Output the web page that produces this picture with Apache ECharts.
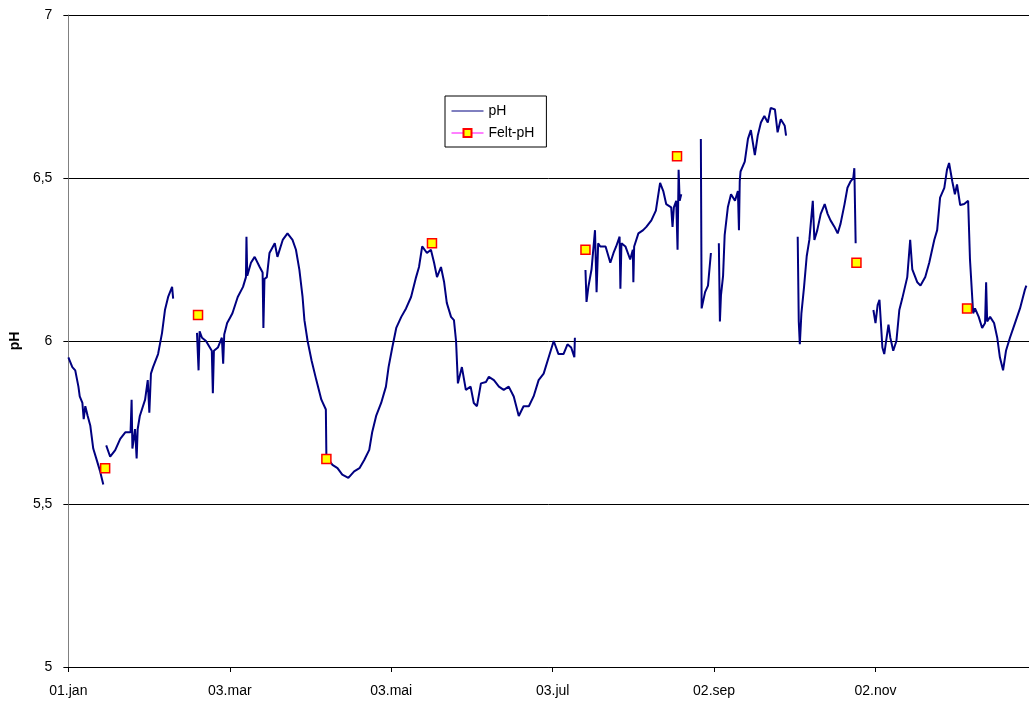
<!DOCTYPE html>
<html>
<head>
<meta charset="utf-8">
<script src="https://cdn.jsdelivr.net/npm/echarts@6/dist/echarts.min.js"></script>
<style>
html,body{margin:0;padding:0;background:#fff;}
#c{width:1029px;height:702px;}
</style>
</head>
<body>
<div id="c"></div>
<script>
// Day index (0 = 01.jan) and pH readings; null marks a gap in the logger record
var phDays = [
 0,1.5,2.6,3.8,4.3,5.3,5.8,6.4,7.3,8.3,9.4,10.9,12,13.2,13.8,
 14.3,15.8,17.7,19.6,21.5,23.5,23.9,24.2,25.2,25.8,26.2,27,29,30,30.6,31.2,32,33.9,35.4,36.5,37.7,39.2,39.6,40,
 48.6,49.2,49.6,50.5,52,54.2,54.6,55,56.5,58,58.5,58.9,60,61,62,64,66,67.1,67.3,67.6,69,70.4,72.3,73.4,73.7,74.1,75,76,78,79,81,82.8,84.7,86,87.3,88.5,89.2,90.4,91.9,93.7,95.6,97.3,97.5,99.8,101.7,103.5,105.8,108,110,111.8,113.7,114.8,116.3,118.2,120,121,122.4,123.9,125.8,127.6,129.5,131.4,132.5,133.7,135.5,137,138.2,139.3,140.8,142,143,144.6,145.7,146.5,147.2,148.7,150.2,152,153.2,154.4,155.9,157.8,158.9,160.8,162.7,164.5,166.4,168.3,170.2,172,174,175.8,177.7,179.6,181.5,183.4,185.2,187.1,188.6,190,191.2,191.4,192,
 195.4,195.8,196.5,197.7,199,199.6,200.2,201,203,204.8,206,207,208.3,208.6,209,210.5,212.3,213.3,213.5,213.8,215.4,217.2,218.4,220.3,222,223.6,224.8,225.9,227.8,228.3,228.8,229.7,230.2,230.6,231,231.6,232,
 239,239.3,240.6,241.7,242.8,244,245.8,246.2,246.6,247.4,248,249.2,250.4,251.9,253,253.4,253.7,254,255.6,256.8,257.9,259.4,260.5,261.7,263,264.3,265.4,267,268,269.2,270.7,271.2,272,
 275.6,276,276.4,277,278,279,280,281.3,281.9,283,284.3,285.8,286.9,288,289.5,290.7,291.8,293.3,294.4,295.6,296.6,297,297.5,298,
 304.2,305,305.8,306.5,307.6,308.3,309.9,310.6,311.7,312.9,314,315.1,317,318.1,318.9,320.8,322,323.8,325.3,327.2,328.3,329.4,331,332,332.8,334,335,335.8,337,338.5,340,340.7,341.9,342.6,344,345.3,346.4,346.8,347.2,348.3,349.8,351,352,353.2,354.3,355.8,357.7,359.6,361.4,362
];
var phValues = [
 5.95,5.92,5.91,5.86,5.83,5.81,5.76,5.80,5.77,5.74,5.67,5.63,5.60,5.56,null,
 5.68,5.645,5.665,5.70,5.72,5.72,5.82,5.67,5.73,5.64,5.73,5.77,5.82,5.88,5.78,5.90,5.92,5.96,6.025,6.095,6.135,6.166,6.13,null,
 6.025,5.91,6.03,6.01,6.00,5.97,5.84,5.97,5.98,6.01,5.93,6.02,6.055,6.07,6.085,6.135,6.166,6.196,6.32,6.20,6.24,6.258,6.227,6.21,6.04,6.19,6.196,6.27,6.30,6.258,6.31,6.33,6.31,6.28,6.218,6.135,6.064,6.00,5.94,5.88,5.82,5.79,5.645,5.62,5.61,5.59,5.58,5.60,5.61,5.635,5.666,5.72,5.77,5.81,5.86,5.92,5.98,6.04,6.074,6.10,6.135,6.196,6.227,6.29,6.27,6.28,6.24,6.196,6.227,6.18,6.117,6.074,6.064,6.00,5.87,5.92,5.85,5.86,5.81,5.80,5.87,5.874,5.89,5.88,5.86,5.85,5.86,5.83,5.77,5.80,5.80,5.83,5.88,5.90,5.95,6.00,5.96,5.96,5.99,5.98,5.95,6.01,null,
 6.218,6.12,6.166,6.22,6.34,6.15,6.30,6.29,6.29,6.24,6.27,6.29,6.32,6.16,6.30,6.29,6.25,6.28,6.18,6.29,6.33,6.34,6.35,6.37,6.40,6.485,6.46,6.42,6.41,6.35,6.41,6.43,6.28,6.525,6.43,6.45,null,
 6.62,6.10,6.15,6.17,6.27,null,6.30,6.06,6.14,6.20,6.325,6.41,6.45,6.43,6.46,6.34,6.49,6.52,6.55,6.62,6.647,6.57,6.63,6.67,6.69,6.67,6.715,6.71,6.64,6.68,6.66,6.63,null,
 6.32,6.06,5.99,6.085,6.166,6.26,6.31,6.43,6.31,6.34,6.39,6.42,6.39,6.37,6.35,6.33,6.36,6.42,6.47,6.49,6.50,6.53,6.30,null,
 6.095,6.055,6.11,6.126,5.98,5.96,6.05,6.01,5.97,6.00,6.095,6.13,6.196,6.31,6.22,6.18,6.17,6.196,6.24,6.31,6.34,6.44,6.47,6.525,6.546,6.49,6.45,6.48,6.417,6.42,6.43,6.25,6.085,6.10,6.074,6.04,6.055,6.18,6.06,6.074,6.055,6.01,5.95,5.91,5.97,6.01,6.055,6.10,6.156,6.17
];
// Field measurements
var feltDays = [13.9, 49, 97.5, 137.4, 195.4, 230, 297.8, 339.6];
var feltValues = [5.61, 6.08, 5.638, 6.30, 6.28, 6.567, 6.24, 6.10];
// Axis ticks
var tickDays = [0, 61, 122, 183, 244, 305];
var tickLabels = ['01.jan', '03.mar', '03.mai', '03.jul', '02.sep', '02.nov'];
var yTicks = [5, 5.5, 6, 6.5, 7];

var phData = phDays.map(function (d, i) { return [d, phValues[i] === null ? '-' : phValues[i]]; });
var feltData = feltDays.map(function (d, i) { return [d, feltValues[i]]; });

var font = 'Liberation Sans, Arial, sans-serif';
var chart = echarts.init(document.getElementById('c'), null, { renderer: 'canvas' });
chart.setOption({
  animation: false,
  backgroundColor: '#fff',
  textStyle: { fontFamily: font },
  grid: { left: 68, top: 15, width: 961, height: 652, containLabel: false },
  legend: {
    orient: 'vertical',
    left: 445, top: 96,
    padding: [8, 12, 7, 6],
    backgroundColor: '#fff',
    borderColor: '#000', borderWidth: 1,
    itemWidth: 32, itemHeight: 10, itemGap: 8,
    textStyle: { fontFamily: font, fontSize: 14, color: '#000' },
    data: [
      { name: 'pH', itemStyle: { opacity: 0 }, lineStyle: { color: '#000080', width: 1, opacity: 1 } },
      { name: 'Felt-pH', lineStyle: { color: '#FF00FF', width: 1, opacity: 1 } }
    ]
  },
  xAxis: {
    type: 'value', min: 0, max: 363, interval: 61,
    axisLine: { show: true, lineStyle: { color: '#000', width: 1 } },
    axisTick: { show: true, inside: false, length: 5, lineStyle: { color: '#000' }, customValues: tickDays },
    axisLabel: {
      customValues: tickDays,
      margin: 17, fontSize: 14, color: '#000', fontFamily: font,
      formatter: function (v) { var i = tickDays.indexOf(v); return i >= 0 ? tickLabels[i] : ''; }
    },
    splitLine: { show: false }
  },
  yAxis: {
    type: 'value', min: 5, max: 7, interval: 0.5,
    name: 'pH', nameLocation: 'middle', nameGap: 43, nameRotate: 90,
    nameTextStyle: { fontWeight: 'bold', fontSize: 14, color: '#000', fontFamily: font },
    axisLine: { show: true, lineStyle: { color: '#808080', width: 1 } },
    axisTick: { show: true, length: 5, lineStyle: { color: '#000' } },
    axisLabel: {
      margin: 16, fontSize: 14, color: '#000', fontFamily: font,
      formatter: function (v) { return String(v).replace('.', ','); }
    },
    splitLine: { show: true, lineStyle: { color: '#000', width: 1 } }
  },
  series: [
    {
      name: 'pH', type: 'line', data: phData,
      symbol: 'none', connectNulls: false,
      lineStyle: { color: '#000080', width: 2 },
      itemStyle: { color: '#000080' },
      z: 2
    },
    {
      name: 'Felt-pH', type: 'line', data: feltData,
      symbol: 'rect', symbolSize: 9, showSymbol: true,
      lineStyle: { color: '#FF00FF', width: 1, opacity: 0 },
      itemStyle: { color: '#FFFF00', borderColor: '#FF0000', borderWidth: 1.5 },
      z: 3
    }
  ]
});
</script>
</body>
</html>
